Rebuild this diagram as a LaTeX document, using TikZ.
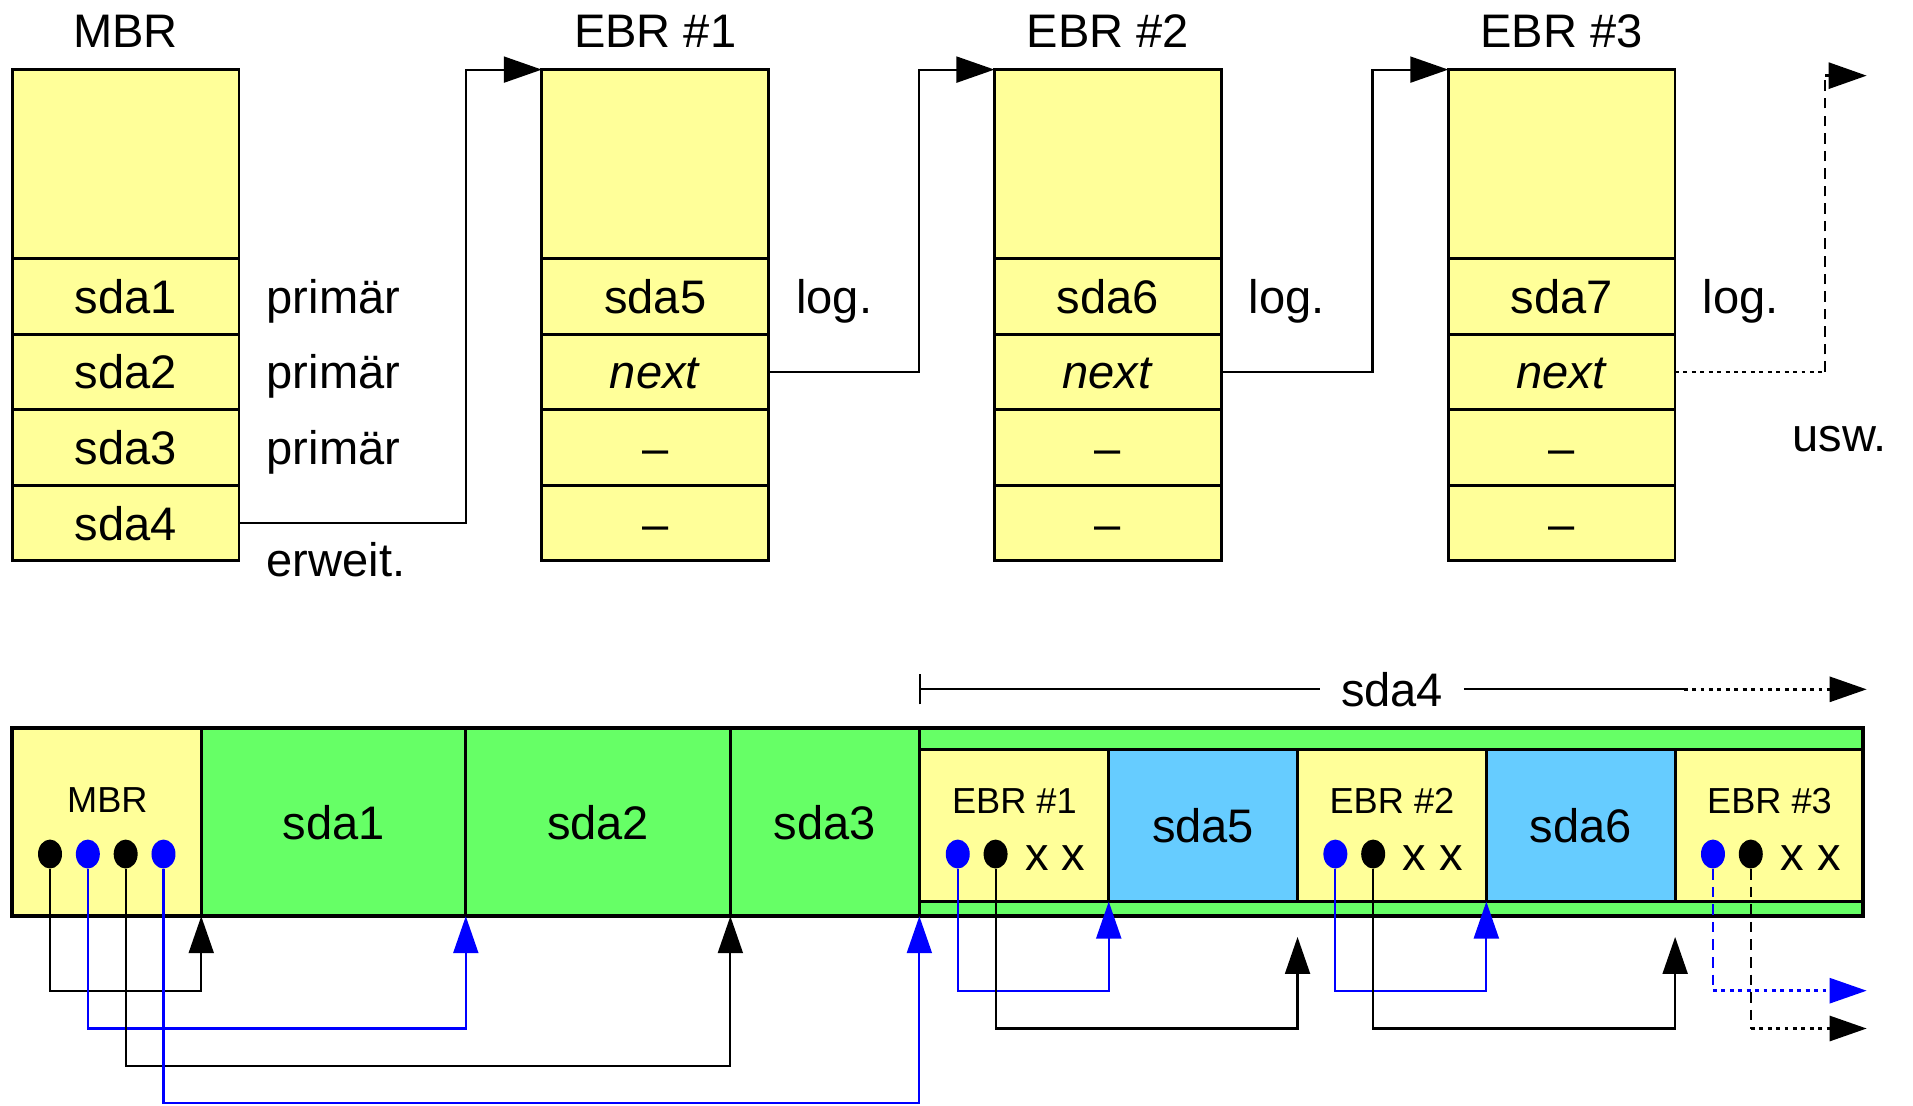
\documentclass[tikz,border=0pt]{standalone}
\usepackage{fontspec}
\setmainfont{Liberation Sans}
\usetikzlibrary{positioning, shapes.geometric, arrows.meta, calc}

\definecolor{ebryellow}{HTML}{FFFF99}
\definecolor{partgreen}{HTML}{66FF66}
\definecolor{logblue}{HTML}{66CCFF}

\begin{document}
\begin{tikzpicture}[x=0.0122cm, y=-0.0122cm,
  big/.style={font=\fontsize{13.4}{16}\selectfont, text height=9.65pt, text depth=0pt},
  small/.style={font=\fontsize{10.3}{12}\selectfont, text height=7.4pt, text depth=0pt},
  lbl/.style={big, inner sep=0pt},
  cell/.style={draw, line width=0.8pt, fill=ebryellow, minimum width=2.269cm,
    minimum height=0.756cm, inner sep=0pt, outer sep=0pt, big},
  head/.style={cell, minimum height=1.891cm},
  part/.style={draw, line width=0.8pt, minimum height=1.879cm, inner sep=0pt, outer sep=0pt, big},
  slot/.style={draw, line width=0.8pt, minimum height=1.525cm, minimum width=1.889cm,
    inner sep=0pt, outer sep=0pt, big},
  dot/.style={ellipse, fill=#1, minimum width=0.24cm, minimum height=0.29cm, inner sep=0pt},
  link/.style={line width=0.6pt, -{Triangle[length=0.38cm, width=0.26cm]}},
  ptr/.style={line width=0.6pt, -{Triangle[length=0.37cm, width=0.25cm]}},
  dots/.style={line width=0.8pt, dash pattern=on 1.1pt off 1.3pt},
  dashes/.style={line width=0.6pt, dash pattern=on 3pt off 2pt}
]
  \useasboundingbox (0,0) rectangle (1568,906);

  % Partition tables (top row)
  \foreach \col/\x/\title/\ra/\rb/\rc/\rd in {
      mbr/103/MBR/sda1/sda2/sda3/sda4,
      ebra/537/EBR \#1/sda5/\textit{next}/--/--,
      ebrb/908/EBR \#2/sda6/\textit{next}/--/--,
      ebrc/1280/EBR \#3/sda7/\textit{next}/--/--}{
    \node[lbl] (\col-title) at (\x,25) {\title};
    \node[head] (\col) at (\x,134.5) {};
    \node[cell, below=0pt of \col] (\col-1) {\ra};
    \node[cell, below=0pt of \col-1] (\col-2) {\rb};
    \node[cell, below=0pt of \col-2] (\col-3) {\rc};
    \node[cell, below=0pt of \col-3] (\col-4) {\rd};
  }

  % Type labels
  \node[lbl, right=0.27cm of mbr-1] (prim1) {primär};
  \node[lbl, right=0.27cm of mbr-2] (prim2) {primär};
  \node[lbl, right=0.27cm of mbr-3] (prim3) {primär};
  \node[lbl, right=0.27cm of mbr-4, yshift=-0.37cm] (erw) {erweit.};
  \node[lbl, right=0.27cm of ebra-1] (loga) {log.};
  \node[lbl, right=0.27cm of ebrb-1] (logb) {log.};
  \node[lbl, right=0.27cm of ebrc-1] (logc) {log.};
  \node[lbl] (usw) at (1508,356) {usw.};

  % Chain of tables
  \draw[link] (mbr-4.east) -- ++(186,0) |- (ebra.north west);
  \draw[link] (ebra-2.east) -- ++(123,0) |- (ebrb.north west);
  \draw[link] (ebrb-2.east) -- ++(124,0) |- (ebrc.north west);
  \coordinate (uswend) at (1530,62);
  \draw[dots] (ebrc-2.east) -- ++(123,0) coordinate (uswbend);
  \draw[dashes] (uswbend) -- (uswbend |- uswend);
  \draw[link, dots] (uswbend |- uswend) -- (uswend);

  % Disk layout (bottom row)
  \node[part, fill=ebryellow, minimum width=1.891cm] (dmbr) at (87.5,674) {};
  \node[part, fill=partgreen, minimum width=2.647cm, right=0pt of dmbr] (dsda1) {sda1};
  \node[part, fill=partgreen, minimum width=2.647cm, right=0pt of dsda1] (dsda2) {sda2};
  \node[part, fill=partgreen, minimum width=1.891cm, right=0pt of dsda2] (dsda3) {sda3};
  \node[part, fill=partgreen, minimum width=9.443cm, right=0pt of dsda3] (dext) {};
  \node[slot, fill=ebryellow] (debra) at (831.4,676.5) {};
  \node[slot, fill=logblue, right=0pt of debra] (dsda5) {sda5};
  \node[slot, fill=ebryellow, right=0pt of dsda5] (debrb) {};
  \node[slot, fill=logblue, right=0pt of debrb] (dsda6) {sda6};
  \node[slot, fill=ebryellow, right=0pt of dsda6] (debrc) {};
  \draw[line width=1.1pt] (dmbr.north west) rectangle (dext.south east);

  \node[small] (dmbr-title) at (88,655) {MBR};
  \node[dot=black] (md1) at (41,700) {};
  \node[dot=blue] (md2) at (72,700) {};
  \node[dot=black] (md3) at (103,700) {};
  \node[dot=blue] (md4) at (134,700) {};

  \foreach \c/\n in {debra/1, debrb/2, debrc/3}{
    \node[small] (\c-title) at ($(\c.center)+(0,-20.5)$) {EBR \#\n};
    \node[dot=blue] (\c-b) at ($(\c.west)+(31,23.5)$) {};
    \node[dot=black] (\c-k) at ($(\c.west)+(62,23.5)$) {};
    \node[lbl] (\c-x) at ($(\c.west)+(111,23.5)$) {x x};
  }

  % Pointers of the MBR
  \draw[ptr] (md1.south) -- (md1 |- 0,812) -| (dmbr.south east);
  \draw[ptr, blue] (md2.south) -- (md2 |- 0,843) -| (dsda1.south east);
  \draw[ptr] (md3.south) -- (md3 |- 0,874) -| (dsda2.south east);
  \draw[ptr, blue] (md4.south) -- (md4 |- 0,904) -| (dsda3.south east);

  % Pointers of the EBRs
  \coordinate (tipa) at ($(dsda5.south east |- dext.south)+(0,17)$);
  \coordinate (tipb) at ($(dsda6.south east |- dext.south)+(0,17)$);
  \draw[ptr, blue] (debra-b.south) -- (debra-b |- 0,812) -| (debra.south east);
  \draw[ptr] (debra-k.south) -- (debra-k |- 0,843) -| (tipa);
  \draw[ptr, blue] (debrb-b.south) -- (debrb-b |- 0,812) -| (debrb.south east);
  \draw[ptr] (debrb-k.south) -- (debrb-k |- 0,843) -| (tipb);
  \coordinate (moreb) at (1530,812);
  \coordinate (morek) at (1530,843);
  \draw[dashes, blue] (debrc-b.south) -- (debrc-b |- moreb);
  \draw[ptr, dots, blue] (debrc-b |- moreb) -- (moreb);
  \draw[dashes] (debrc-k.south) -- (debrc-k |- morek);
  \draw[ptr, dots] (debrc-k |- morek) -- (morek);

  % Extent of sda4
  \node[lbl] (sda4lbl) at (1141,565) {sda4};
  \coordinate (sda4start) at (dext.north west |- sda4lbl);
  \coordinate (sda4dots) at (1380,565);
  \coordinate (sda4end) at (1530,565);
  \draw[line width=0.6pt, {Bar[width=0.3cm]}-] (sda4start) -- ([xshift=-0.2cm]sda4lbl.west);
  \draw[line width=0.6pt] ([xshift=0.2cm]sda4lbl.east) -- (sda4dots);
  \draw[ptr, dots] (sda4dots) -- (sda4end);
\end{tikzpicture}
\end{document}
